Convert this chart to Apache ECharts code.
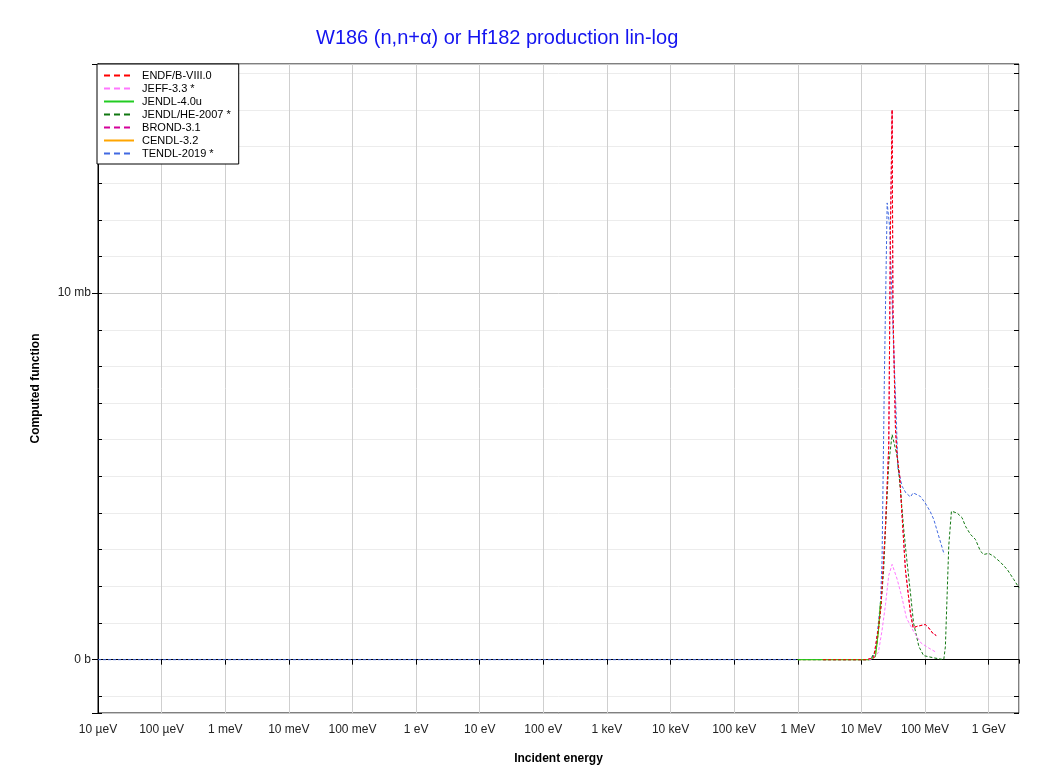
<!DOCTYPE html>
<html>
<head>
<meta charset="utf-8">
<script src="https://cdn.jsdelivr.net/npm/echarts@6/dist/echarts.min.js"></script>
<style>
html,body{margin:0;padding:0;background:#fff;}
#chart{width:1045px;height:774px;}
</style>
</head>
<body>
<div id="chart"></div>
<script>
// ---- data (x in eV, y in mb) ----
const seriesNames = ['ENDF/B-VIII.0','JEFF-3.3 *','JENDL-4.0u','JENDL/HE-2007 *','BROND-3.1','CENDL-3.2','TENDL-2019 *'];
const seriesColors = ['#ff0000','#ff77ff','#22cc22','#117711','#d4009a','#ffa500','#4169e1'];
const seriesDashed = [true,true,false,true,true,false,true];

const endfData = [[2.5e6,0],[1.2e7,0],[1.56e7,0.05],[1.87e7,0.91],[2.04e7,1.5],[2.39e7,3.64],[2.69e7,5.83],[2.86e7,11.7],[3.04e7,15.0],[3.13e7,9.6],[3.3e7,9.6],[3.43e7,6.3],[3.64e7,5.56],[4.0e7,5.0],[4.36e7,3.91],[4.92e7,2.45],[5.89e7,1.28],[6.5e7,0.87],[7.5e7,0.91],[9.0e7,0.94],[1.01e8,0.96],[1.14e8,0.87],[1.34e8,0.71],[1.5e8,0.66]];
const jeffData = [[1.3e7,0],[1.49e7,0.02],[1.85e7,0.2],[2.11e7,0.8],[2.39e7,1.5],[2.69e7,2.3],[3.04e7,2.6],[3.64e7,2.2],[4.36e7,1.68],[5.1e7,1.14],[6.6e7,0.77],[8.7e7,0.45],[1.14e8,0.32],[1.5e8,0.2]];
const jendl40Data = [[1e6,0],[1.3e7,0],[1.66e7,0.08],[1.85e7,0.8],[2.0e7,1.6]];
const jendlHeData = [[1e6,0],[1.39e7,0],[1.72e7,0.3],[1.99e7,1.3],[2.24e7,2.45],[2.39e7,3.55],[2.69e7,5.36],[3.04e7,6.14],[3.64e7,5.56],[4.1e7,4.64],[4.63e7,3.55],[5.1e7,2.82],[5.9e7,1.82],[6.6e7,1.0],[8.0e7,0.36],[9.5e7,0.11],[1.37e8,0.05],[1.97e8,0],[2.09e8,0.36],[2.36e8,3.1],[2.6e8,4.05],[3.2e8,4.0],[3.83e8,3.87],[4.32e8,3.64],[5.17e8,3.42],[6.2e8,3.28],[7.43e8,2.96],[8.37e8,2.87],[1.0e9,2.9],[1.2e9,2.82],[1.53e9,2.66],[1.96e9,2.46],[2.48e9,2.19],[3.0e9,1.96]];
const brondData = [[2.5e6,0],[1.2e7,0],[1.56e7,0.05],[1.87e7,0.91],[2.04e7,1.5],[2.39e7,3.64],[2.69e7,5.83],[2.86e7,11.7],[3.04e7,15.0],[3.13e7,9.6],[3.3e7,9.6],[3.43e7,6.3],[3.64e7,5.56],[4.0e7,5.0],[4.36e7,3.91],[4.92e7,2.45],[5.89e7,1.28],[6.5e7,0.87],[7.5e7,0.91],[9.0e7,0.94],[1.01e8,0.96],[1.14e8,0.87],[1.34e8,0.71],[1.5e8,0.66]];
const cendlData = [[1e6,0],[1.3e7,0],[1.66e7,0.08],[1.85e7,0.75],[2.0e7,1.55]];
const tendlData = [[1e-5,0],[1.4e7,0],[1.66e7,0.2],[2.0e7,1.6],[2.11e7,2.7],[2.3e7,7.8],[2.54e7,12.46],[2.78e7,11.8],[3.18e7,8.7],[3.5e7,6.8],[3.75e7,5.2],[4.36e7,4.73],[5.0e7,4.55],[5.9e7,4.44],[6.5e7,4.55],[7.5e7,4.5],[8.5e7,4.45],[1.0e8,4.28],[1.2e8,4.05],[1.37e8,3.83],[1.7e8,3.28],[2.0e8,2.87]];

const xTickExponents = [-5,-4,-3,-2,-1,0,1,2,3,4,5,6,7,8,9];
const xTickLabels = ['10 µeV','100 µeV','1 meV','10 meV','100 meV','1 eV','10 eV','100 eV','1 keV','10 keV','100 keV','1 MeV','10 MeV','100 MeV','1 GeV'];
const yTickValues = [0,10];
const yTickLabels = ['0 b','10 mb'];

const allData = [endfData,jeffData,jendl40Data,jendlHeData,brondData,cendlData,tendlData];

const FONT = 'Liberation Sans, Arial, sans-serif';
const chart = echarts.init(document.getElementById('chart'), null, {renderer:'canvas'});

function xLabel(v){
  const e = Math.round(Math.log10(v));
  if (Math.abs(Math.log10(v) - e) > 1e-6) return '';
  const i = xTickExponents.indexOf(e);
  return i >= 0 ? xTickLabels[i] : '';
}
function yLabel(v){
  const i = yTickValues.findIndex(t => Math.abs(t - v) < 1e-9);
  return i >= 0 ? yTickLabels[i] : '';
}

// draw order: TENDL at bottom, ENDF on top
const order = [6,5,4,3,2,1,0];
const series = order.map(i => ({
  name: seriesNames[i],
  type: 'line',
  data: allData[i],
  showSymbol: false,
  symbol: 'none',
  smooth: false,
  animation: false,
  z: 3 + (6 - i),
  lineStyle: {color: seriesColors[i], width: 1, type: seriesDashed[i] ? [3,2] : 'solid'},
  itemStyle: {color: seriesColors[i]}
}));

const yMin = -1.455, yMax = 16.25;

const option = {
  animation: false,
  backgroundColor: '#fff',
  title: {
    text: 'W186 (n,n+α) or Hf182 production lin-log',
    left: 311, top: 23,
    textStyle: {color: '#1414f0', fontSize: 20, fontWeight: 'normal', fontFamily: FONT}
  },
  legend: {
    orient: 'vertical',
    left: 97, top: 64,
    padding: [6, 8, 5, 6],
    backgroundColor: '#fff',
    borderColor: '#000', borderWidth: 1, borderRadius: 0,
    itemWidth: 30, itemHeight: 10, itemGap: 2,
    itemStyle: {opacity: 0},
    textStyle: {fontSize: 11, color: '#000', fontFamily: FONT},
    formatter: function(n){ return ' ' + n; },
    data: seriesNames.map((n, i) => ({
      name: n,
      itemStyle: {opacity: 0},
      lineStyle: {width: 2, type: seriesDashed[i] ? [6,4] : 'solid', color: seriesColors[i]}
    })),
    z: 20
  },
  grid: {left: 98, right: 26, top: 64, bottom: 61, show: true, borderColor: '#000', borderWidth: 1, backgroundColor: 'transparent'},
  xAxis: [{
    type: 'log', logBase: 10, min: 1e-5, max: 3e9, interval: 1,
    name: 'Incident energy', nameLocation: 'middle', nameGap: 40,
    nameTextStyle: {fontSize: 12, fontWeight: 'bold', color: '#000', fontFamily: FONT},
    axisLine: {show: true, lineStyle: {color: '#000', width: 1}},
    axisTick: {show: true, length: 5, lineStyle: {color: '#000'}},
    axisLabel: {formatter: xLabel, fontSize: 12, color: '#222', fontFamily: FONT, margin: 11, showMaxLabel: false},
    splitLine: {show: true, lineStyle: {color: '#cfcfcf', width: 1}},
    minorTick: {show: false}
  },{
    type: 'log', logBase: 10, min: 1e-5, max: 3e9, interval: 1, position: 'top',
    axisLine: {show: false},
    axisTick: {show: true, inside: true, length: 4, lineStyle: {color: '#000'}},
    axisLabel: {show: false},
    splitLine: {show: false}
  }],
  yAxis: [{
    type: 'value', min: yMin, max: yMax, minInterval: 10, maxInterval: 10,
    name: 'Computed function', nameLocation: 'middle', nameGap: 56,
    nameTextStyle: {fontSize: 12, fontWeight: 'bold', color: '#000', fontFamily: FONT},
    axisLine: {show: true, lineStyle: {color: '#000', width: 1}},
    axisTick: {show: true, length: 6, lineStyle: {color: '#000'}},
    minorTick: {show: false, splitNumber: 10},
    axisLabel: {formatter: yLabel, fontSize: 12, color: '#222', fontFamily: FONT, margin: 7},
    splitLine: {show: true, lineStyle: {color: '#c8c8c8', width: 1}},
    minorSplitLine: {show: true, lineStyle: {color: '#ececec', width: 1}}
  },{
    type: 'value', min: yMin, max: yMax, minInterval: 1, maxInterval: 1, position: 'right',
    axisLine: {show: false},
    axisTick: {show: true, inside: true, length: 5, lineStyle: {color: '#000'}},
    axisLabel: {show: false},
    splitLine: {show: false}
  },{
    type: 'value', min: yMin, max: yMax, minInterval: 1, maxInterval: 1, position: 'left', offset: 0,
    axisLine: {show: false},
    axisTick: {show: true, inside: true, length: 4, lineStyle: {color: '#000'}},
    axisLabel: {show: false},
    splitLine: {show: false}
  }],
  series: series
};
chart.setOption(option);
</script>
</body>
</html>
